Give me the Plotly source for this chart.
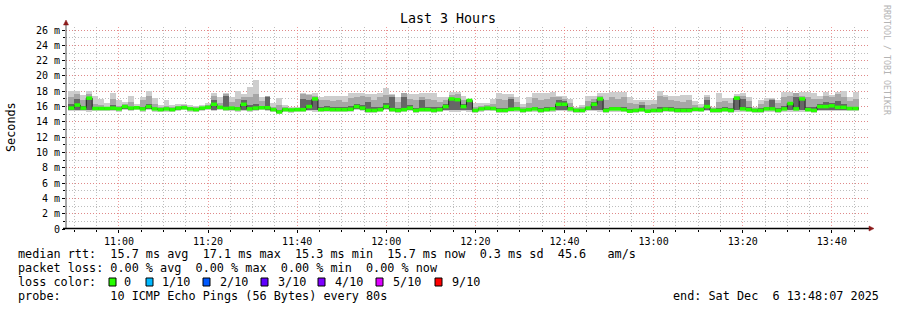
import plotly.graph_objects as go
import pandas as pd

# ---------------- data ----------------
median = [15.8, 16.2, 15.8, 17.1, 15.75, 15.75, 15.75, 15.8, 15.7, 16.0,
          15.8, 15.85, 15.7, 16.0, 15.7, 15.6, 15.7, 15.6, 15.8, 15.85,
          15.7, 15.6, 15.8, 15.9, 16.3, 15.9, 15.75, 15.8, 15.7, 16.3,
          15.7, 15.8, 15.85, 15.85, 15.6, 15.3, 15.6, 15.55, 15.6, 15.6,
          16.0, 17.0, 15.6, 15.65, 15.6, 15.6, 15.6, 15.65, 16.0, 15.8,
          15.5, 15.5, 15.6, 16.0, 15.6, 15.5, 15.6, 15.8, 15.5, 15.6,
          15.6, 15.5, 15.6, 16.0, 17.0, 16.9, 16.0, 16.8, 15.5, 15.7,
          15.8, 15.75, 15.5, 15.5, 15.65, 15.7, 15.5, 15.6, 15.7, 15.5,
          15.6, 15.7, 16.3, 16.3, 15.7, 15.5, 15.5, 15.8, 16.3, 17.0,
          15.5, 15.7, 15.7, 15.6, 15.4, 15.5, 15.6, 15.4, 15.5, 15.5,
          15.65, 15.6, 15.5, 15.5, 15.5, 15.65, 15.6, 16.0, 15.5, 15.5,
          15.6, 15.5, 17.1, 15.7, 15.6, 15.5, 15.5, 15.7, 15.7, 15.5,
          15.7, 16.4, 15.7, 17.0, 15.6, 15.5, 16.0, 16.0, 16.1, 15.9,
          15.9, 15.75, 15.75]

rtt_max = [18.0, 18.0, 17.5, 18.1, 17.4, 17.0, 16.5, 17.8, 16.9, 16.6,
           17.4, 16.4, 17.2, 18.0, 17.1, 16.2, 16.8, 16.2, 16.4, 16.4,
           16.2, 16.1, 16.2, 16.5, 17.8, 17.3, 17.8, 17.3, 18.0, 17.7,
           18.6, 19.5, 17.3, 17.4, 16.5, 17.1, 16.2, 16.0, 16.0, 17.8,
           17.7, 17.8, 17.3, 17.35, 17.35, 17.4, 17.35, 17.8, 17.8, 17.8,
           17.6, 17.6, 17.8, 18.4, 17.6, 17.3, 17.75, 17.6, 17.6, 17.8,
           17.75, 17.8, 17.2, 17.2, 17.9, 17.9, 17.4, 17.0, 16.5, 16.5,
           16.5, 17.0, 17.75, 17.6, 17.7, 17.2, 16.4, 17.2, 17.75, 17.75,
           17.75, 17.9, 17.4, 17.4, 17.0, 16.0, 16.2, 17.4, 17.4, 17.75,
           17.8, 17.9, 17.9, 17.85, 17.2, 16.9, 16.9, 16.9, 16.9, 18.05,
           17.5, 17.4, 17.4, 17.5, 17.5, 16.7, 16.4, 17.5, 16.0, 17.75,
           17.1, 17.1, 17.6, 17.8, 17.2, 16.0, 16.9, 17.1, 17.1, 16.9,
           17.85, 17.85, 17.75, 17.85, 17.85, 17.75, 17.4, 17.85, 17.5, 17.9,
           18.0, 17.2, 17.85]

rtt_mid = [17.3, 17.6, 16.9, 17.7, 16.3, 16.2, 16.0, 17.0, 16.1, 16.3,
           16.6, 16.1, 16.8, 17.4, 16.3, 15.9, 16.1, 15.9, 16.1, 16.15,
           16.0, 15.9, 16.0, 16.2, 17.4, 16.5, 17.6, 16.6, 17.0, 17.3,
           17.2, 17.7, 16.7, 17.4, 16.0, 16.2, 15.9, 15.8, 15.8, 17.6,
           17.5, 17.4, 16.8, 16.9, 16.7, 16.9, 16.6, 17.1, 17.2, 17.4,
           17.3, 16.8, 17.2, 17.5, 17.5, 16.6, 17.75, 17.0, 16.8, 17.3,
           17.0, 16.8, 16.6, 16.8, 17.5, 17.6, 16.9, 17.0, 16.0, 16.1,
           16.2, 16.4, 17.0, 16.9, 17.3, 16.6, 16.0, 16.5, 17.1, 16.9,
           17.0, 17.2, 17.2, 17.0, 16.5, 15.8, 15.9, 16.7, 17.0, 17.4,
           16.9, 17.2, 17.0, 17.2, 16.5, 16.4, 16.6, 16.2, 16.3, 17.4,
           17.2, 16.8, 16.7, 16.6, 16.9, 16.2, 16.0, 17.2, 15.8, 16.6,
           16.7, 16.5, 17.4, 17.4, 16.7, 15.8, 16.4, 16.7, 17.0, 16.5,
           17.3, 17.4, 17.75, 17.4, 17.3, 17.0, 17.0, 17.4, 17.2, 17.6,
           17.3, 16.7, 17.0]

rtt_dark = [16.3, 17.0, 16.1, 17.2, 15.95, 15.9, 15.9, 16.2, 15.85, 16.1,
            16.0, 15.95, 15.9, 16.3, 15.85, 15.75, 15.85, 15.75, 15.95, 16.0,
            15.85, 15.75, 15.9, 16.05, 16.8, 16.1, 17.4, 16.0, 16.0, 16.9,
            16.2, 16.4, 16.1, 17.2, 15.75, 15.6, 15.75, 15.7, 15.7, 17.0,
            16.8, 17.1, 16.0, 16.1, 15.9, 16.0, 15.9, 16.1, 16.4, 16.2,
            16.6, 15.9, 16.0, 16.5, 17.3, 15.8, 17.2, 16.2, 15.8, 16.8,
            16.0, 15.9, 15.9, 16.3, 17.0, 17.0, 16.3, 16.8, 15.7, 15.85,
            15.95, 15.95, 15.8, 15.8, 17.0, 15.9, 15.7, 15.8, 16.0, 15.8,
            15.9, 16.0, 16.9, 16.7, 15.9, 15.65, 15.65, 16.0, 16.6, 17.1,
            15.8, 16.0, 16.0, 15.9, 15.7, 15.7, 16.2, 15.6, 15.7, 15.9,
            16.0, 15.9, 15.8, 15.8, 15.8, 15.85, 15.8, 16.8, 15.65, 15.8,
            15.9, 15.8, 17.3, 17.0, 15.9, 15.65, 15.8, 16.0, 16.9, 15.8,
            16.1, 16.5, 17.3, 17.0, 16.0, 15.9, 16.4, 16.6, 16.5, 16.7,
            16.4, 16.0, 16.0]

rtt_low = [15.6, 15.6, 15.6, 15.5, 15.6, 15.6, 15.6, 15.6, 15.55, 15.7,
           15.6, 15.7, 15.55, 15.7, 15.55, 15.45, 15.55, 15.45, 15.6, 15.7,
           15.55, 15.45, 15.6, 15.7, 15.6, 15.7, 15.6, 15.6, 15.55, 15.6,
           15.55, 15.6, 15.7, 15.6, 15.45, 15.2, 15.45, 15.4, 15.45, 15.45,
           15.6, 15.5, 15.45, 15.5, 15.45, 15.45, 15.45, 15.5, 15.7, 15.6,
           15.35, 15.35, 15.45, 15.7, 15.45, 15.35, 15.45, 15.6, 15.35, 15.45,
           15.45, 15.35, 15.45, 15.6, 15.5, 15.5, 15.6, 15.5, 15.35, 15.55,
           15.6, 15.6, 15.35, 15.35, 15.5, 15.55, 15.35, 15.45, 15.55, 15.35,
           15.45, 15.55, 15.6, 15.6, 15.55, 15.35, 15.35, 15.6, 15.6, 15.5,
           15.35, 15.55, 15.55, 15.45, 15.25, 15.35, 15.45, 15.25, 15.35, 15.35,
           15.5, 15.45, 15.35, 15.35, 15.35, 15.5, 15.45, 15.6, 15.35, 15.35,
           15.45, 15.35, 15.5, 15.55, 15.45, 15.35, 15.35, 15.55, 15.55, 15.35,
           15.55, 15.5, 15.55, 15.5, 15.45, 15.35, 15.6, 15.6, 15.6, 15.6,
           15.6, 15.6, 15.6]

rtt_min = [15.4, 15.4, 15.4, 15.3, 15.4, 15.4, 15.4, 15.4, 15.35, 15.5,
           15.4, 15.5, 15.35, 15.5, 15.35, 15.25, 15.35, 15.25, 15.4, 15.5,
           15.35, 15.25, 15.4, 15.5, 15.4, 15.5, 15.4, 15.4, 15.35, 15.4,
           15.35, 15.4, 15.5, 15.4, 15.25, 15.05, 15.25, 15.2, 15.25, 15.25,
           15.4, 15.3, 15.25, 15.3, 15.25, 15.25, 15.25, 15.3, 15.5, 15.4,
           15.15, 15.15, 15.25, 15.5, 15.25, 15.15, 15.25, 15.4, 15.15, 15.25,
           15.25, 15.15, 15.25, 15.4, 15.3, 15.3, 15.4, 15.3, 15.15, 15.35,
           15.4, 15.4, 15.15, 15.15, 15.3, 15.35, 15.15, 15.25, 15.35, 15.15,
           15.25, 15.35, 15.4, 15.4, 15.35, 15.15, 15.15, 15.4, 15.4, 15.3,
           15.15, 15.35, 15.35, 15.25, 15.1, 15.15, 15.25, 15.1, 15.15, 15.15,
           15.3, 15.25, 15.15, 15.15, 15.15, 15.3, 15.25, 15.4, 15.15, 15.15,
           15.25, 15.15, 15.3, 15.35, 15.25, 15.15, 15.15, 15.35, 15.35, 15.15,
           15.35, 15.3, 15.35, 15.3, 15.25, 15.15, 15.4, 15.4, 15.4, 15.4,
           15.4, 15.4, 15.4]

y_tick_vals = [0, 2, 4, 6, 8, 10, 12, 14, 16, 18, 20, 22, 24, 26]
y_tick_text = ["0", "2 m", "4 m", "6 m", "8 m", "10 m", "12 m", "14 m",
               "16 m", "18 m", "20 m", "22 m", "24 m", "26 m"]

stats_line1 = "median rtt:  15.7 ms avg  17.1 ms max  15.3 ms min  15.7 ms now  0.3 ms sd  45.6   am/s"
stats_line2 = "packet loss: 0.00 % avg  0.00 % max  0.00 % min  0.00 % now"
loss_labels = ["0", "1/10", "2/10", "3/10", "4/10", "5/10", "9/10"]
loss_colors = ["#26ff00", "#00b8ff", "#0059ff", "#5e00ff", "#7e00ff", "#dd00ff", "#ff0000"]
probe_line = "probe:       10 ICMP Echo Pings (56 Bytes) every 80s"
end_line = "end: Sat Dec  6 13:48:07 2025"

STEP = pd.Timedelta(seconds=80)
first_start = pd.Timestamp("2025-12-06 10:48:40")
x_start = pd.Timestamp("2025-12-06 10:48:07")
x_end = pd.Timestamp("2025-12-06 13:48:07")

# ---------------- geometry helpers ----------------
W, H = 897, 310
L, R, T, B = 66, 29, 27, 81
PW, PH = W - L - R, H - T - B
def px(x):
    return (x - L) / PW
def py(y):
    return (H - B - y) / PH

n = len(median)
starts = [first_start + STEP * i for i in range(n)]
centers = [s + STEP / 2 for s in starts]
wms = STEP.total_seconds() * 1000

MONO = "DejaVu Sans Mono"
fig = go.Figure()

def band(lo, hi, color):
    fig.add_trace(go.Bar(x=centers, base=lo, y=[h - l for h, l in zip(hi, lo)],
                         width=[wms] * n, marker=dict(color=color, line=dict(width=0)),
                         hoverinfo="skip", showlegend=False))

band(rtt_min, rtt_max, "#cdcdcd")
band(rtt_low, rtt_mid, "#a6a6a6")
band(rtt_low, rtt_dark, "#666666")

# median dark step line
fig.add_trace(go.Scatter(x=starts + [starts[-1] + STEP], y=median + [median[-1]],
                         mode="lines", line=dict(color="#202020", width=1, shape="hv"),
                         hoverinfo="skip", showlegend=False))
# loss coloured median band (horizontal segments only)
gx, gy = [], []
for s, m in zip(starts, median):
    gx += [s, s + STEP, None]
    gy += [m, m, None]
fig.add_trace(go.Scatter(x=gx, y=gy, mode="lines", connectgaps=False,
                         line=dict(color=loss_colors[0], width=3.5),
                         hoverinfo="skip", showlegend=False))

grid_dash = "1px,2px"
fig.update_layout(
    width=W, height=H, margin=dict(l=L, r=R, t=T, b=B),
    paper_bgcolor="white", plot_bgcolor="white",
    barmode="overlay", bargap=0, showlegend=False,
    font=dict(family=MONO, size=10, color="black"),
    xaxis=dict(type="date", range=[x_start, x_end], tickformat="%H:%M",
               dtick=20 * 60 * 1000, tick0="2025-12-06 11:00:00",
               showgrid=True, gridcolor="rgba(235,120,120,0.75)", griddash=grid_dash, gridwidth=1,
               minor=dict(dtick=5 * 60 * 1000, showgrid=True, gridcolor="#bdbdbd",
                          griddash=grid_dash, ticks="outside", ticklen=2, tickcolor="black"),
               ticks="outside", ticklen=3, tickcolor="black", showline=False, zeroline=False,
               tickfont=dict(family=MONO, size=10, color="black"), fixedrange=True),
    yaxis=dict(range=[0, 26.4], tickvals=y_tick_vals, ticktext=y_tick_text,
               showgrid=True, gridcolor="rgba(235,120,120,0.75)", griddash=grid_dash, gridwidth=1,
               minor=dict(dtick=1, showgrid=True, gridcolor="#bdbdbd", griddash=grid_dash,
                          ticks="outside", ticklen=2, tickcolor="black"),
               ticks="outside", ticklen=3, tickcolor="black", showline=False, zeroline=False,
               tickfont=dict(family=MONO, size=10, color="black"), fixedrange=True),
)

shapes = []
# axes lines
shapes.append(dict(type="line", xref="paper", yref="paper", x0=px(66), x1=px(66), y0=py(229), y1=py(24),
                   line=dict(color="#505050", width=1)))
shapes.append(dict(type="line", xref="paper", yref="paper", x0=px(63), x1=px(869), y0=py(228.5), y1=py(228.5),
                   line=dict(color="black", width=1.5)))
# arrows
shapes.append(dict(type="path", xref="paper", yref="paper",
                   path=f"M {px(63.5)} {py(25)} L {px(68.5)} {py(25)} L {px(66)} {py(20)} Z",
                   fillcolor="#8b1a1a", line=dict(color="#8b1a1a", width=0.5)))
shapes.append(dict(type="path", xref="paper", yref="paper",
                   path=f"M {px(869)} {py(226)} L {px(869)} {py(231)} L {px(874)} {py(228.5)} Z",
                   fillcolor="#8b1a1a", line=dict(color="#8b1a1a", width=0.5)))

# loss colour squares
sq_x = [109, 146, 203, 261, 318, 376, 435]
lab_x = [122, 160, 218, 276, 333, 391, 450]
for c, sx in zip(loss_colors, sq_x):
    shapes.append(dict(type="rect", xref="paper", yref="paper",
                       x0=px(sx), x1=px(sx + 7), y0=py(286), y1=py(278),
                       fillcolor=c, line=dict(color="black", width=1)))
fig.update_layout(shapes=shapes)

def nb(s):
    return s.replace(" ", "\u00a0")

ann = []
def text(x, y, s, size=11.8, anchor="left", color="black", angle=0):
    ann.append(dict(xref="paper", yref="paper", x=px(x), y=py(y), text=nb(s), showarrow=False,
                    xanchor=anchor, yanchor="middle", textangle=angle,
                    font=dict(family=MONO, size=size, color=color)))

text(448, 19, "Last 3 Hours", size=13.3, anchor="center")
text(11, 127, "Seconds", size=11.8, anchor="center", angle=-90)
text(887, 60, "RRDTOOL / TOBI OETIKER", size=8.3, anchor="center", color="#b4b4b4", angle=90)
text(16, 254, stats_line1)
text(16, 268, stats_line2)
text(16, 282, "loss color:")
for lab, lx in zip(loss_labels, lab_x):
    text(lx, 282, lab)
text(16, 296, probe_line)
text(881, 296, end_line, anchor="right")
fig.update_layout(annotations=ann)

fig.write_html("out.html")
